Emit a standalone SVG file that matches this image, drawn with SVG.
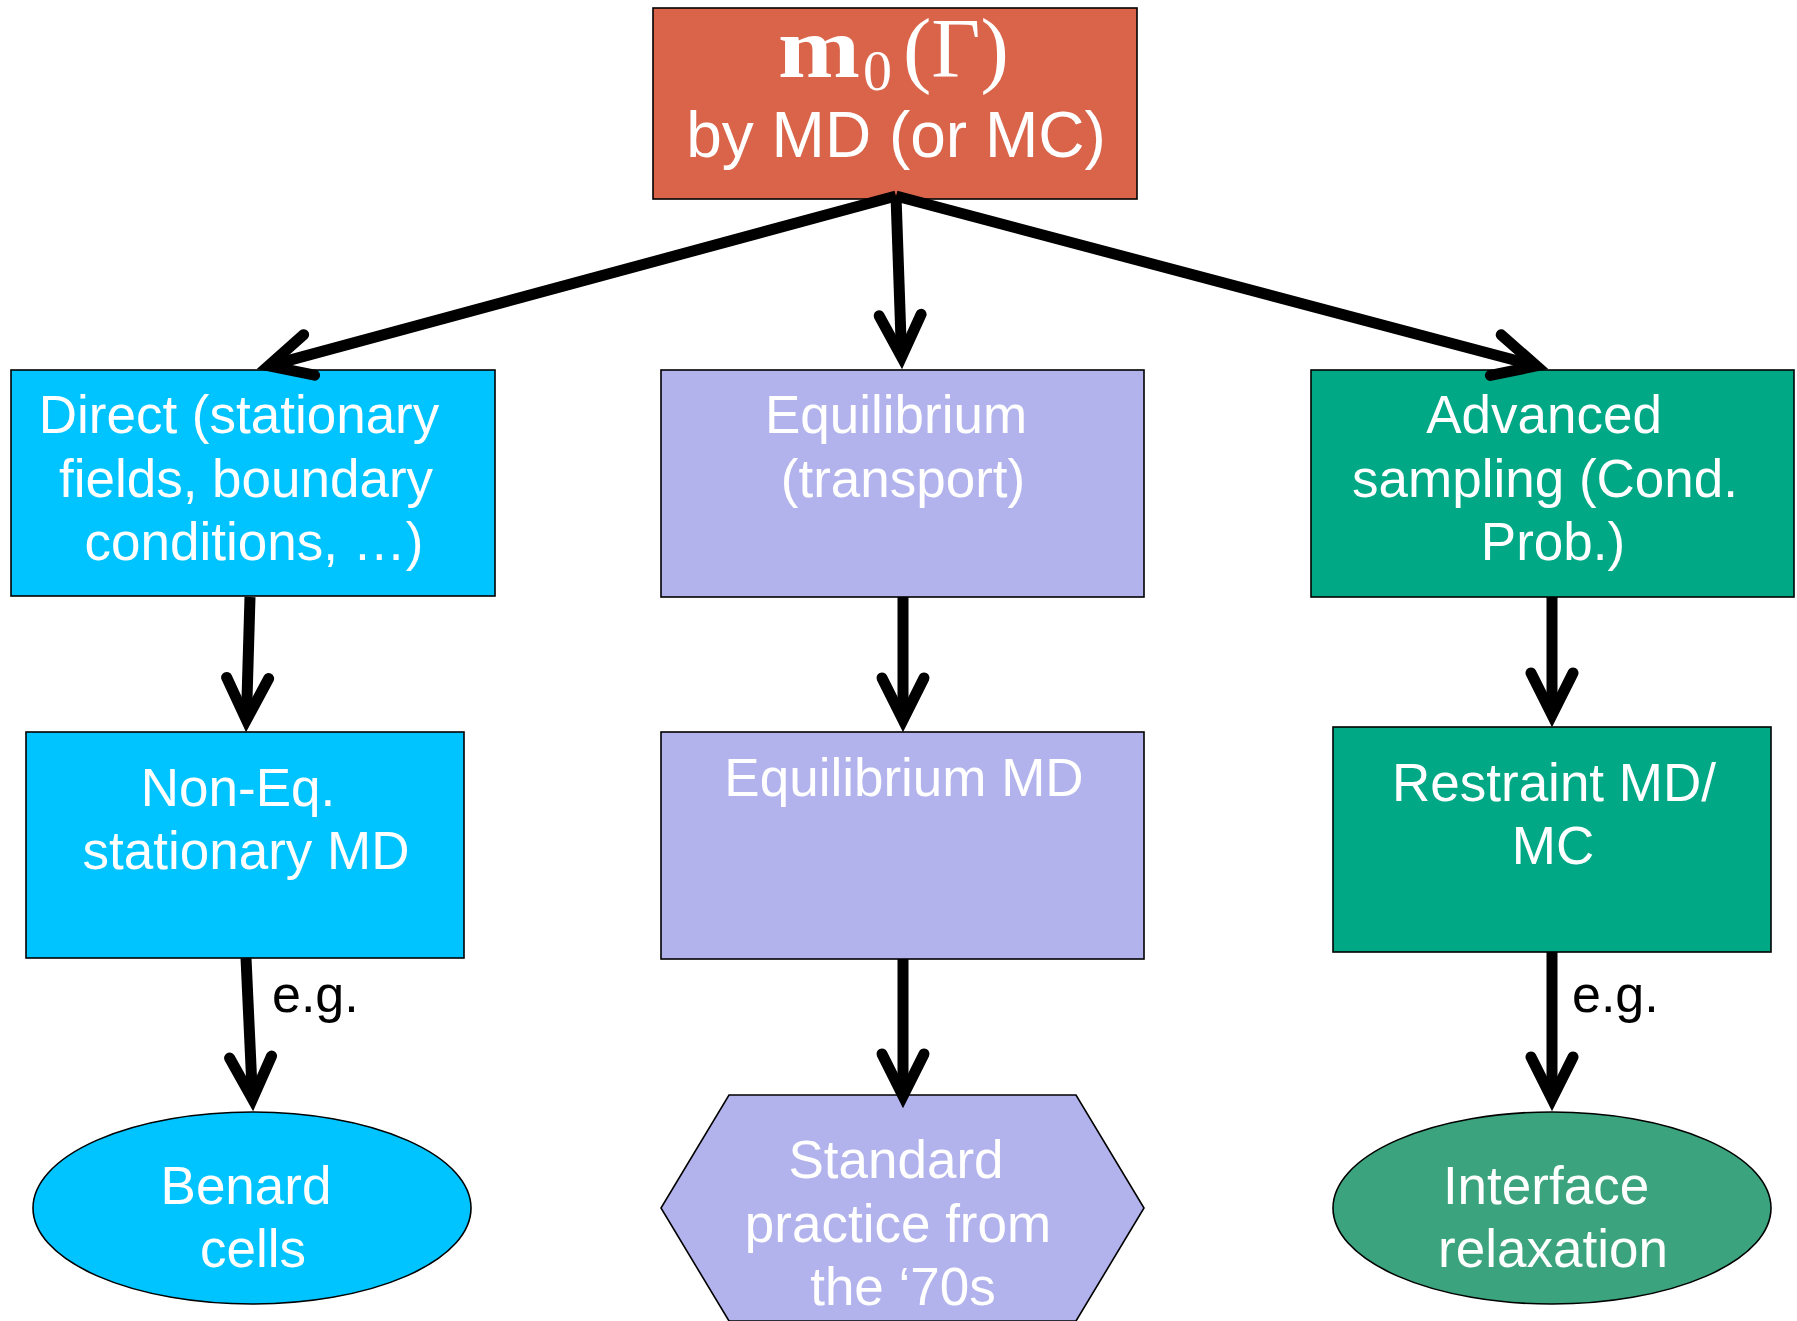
<svg xmlns="http://www.w3.org/2000/svg" width="1797" height="1321" viewBox="0 0 1797 1321">
<style>
.box{stroke:#000;stroke-width:1.6}
.lbl{font-family:"Liberation Sans",Arial,sans-serif;font-size:53px;fill:#fff;text-anchor:middle}
.eg{font-family:"Liberation Sans",Arial,sans-serif;font-size:52px;fill:#000}
.conn{fill:none;stroke:#000;stroke-width:11;stroke-linecap:butt}
.top{fill:#D9644A}
.cyan{fill:#00C4FF}
.lav{fill:#B2B3ED}
.teal{fill:#00A886}
.green{fill:#3BA37D}
</style>
<defs>
<marker id="ah" markerUnits="userSpaceOnUse" markerWidth="1" markerHeight="1" refX="-12" refY="0" orient="auto" overflow="visible">
<path d="M-54,-21 L-12,0 L-54,21" fill="none" stroke="#000" stroke-width="11" stroke-linecap="round" stroke-linejoin="miter"/>
</marker>
</defs>
<rect width="1797" height="1321" fill="#fff"/>

<g id="n-top">
<rect class="box top" x="653" y="8" width="484" height="191"/>
<text x="778" y="77" font-family="'Liberation Serif',serif" font-size="85" fill="#fff"><tspan font-weight="bold" font-size="86" textLength="82" lengthAdjust="spacingAndGlyphs">m</tspan><tspan x="863" dy="13" font-size="58">0</tspan><tspan x="903" dy="-13">(Γ)</tspan></text>
<text x="896" y="157" font-family="'Liberation Sans',Arial,sans-serif" font-size="64" fill="#fff" text-anchor="middle">by MD (or MC)</text>
</g>

<g id="n-direct">
<rect class="box cyan" x="11" y="370" width="484" height="226"/>
<text class="lbl"><tspan x="239" y="433">Direct (stationary</tspan><tspan x="246" y="497">fields, boundary</tspan><tspan x="254" y="560">conditions, …)</tspan></text>
</g>

<g id="n-equil">
<rect class="box lav" x="661" y="370" width="483" height="227"/>
<text class="lbl"><tspan x="896" y="433">Equilibrium</tspan><tspan x="903" y="497">(transport)</tspan></text>
</g>

<g id="n-adv">
<rect class="box teal" x="1311" y="370" width="483" height="227"/>
<text class="lbl"><tspan x="1544" y="433">Advanced</tspan><tspan x="1545" y="497">sampling (Cond.</tspan><tspan x="1553" y="560">Prob.)</tspan></text>
</g>

<g id="n-noneq">
<rect class="box cyan" x="26" y="732" width="438" height="226"/>
<text class="lbl"><tspan x="238" y="806">Non-Eq.</tspan><tspan x="246" y="869">stationary MD</tspan></text>
</g>

<g id="n-eqmd">
<rect class="box lav" x="661" y="732" width="483" height="227"/>
<text class="lbl" x="904" y="796">Equilibrium MD</text>
</g>

<g id="n-restraint">
<rect class="box teal" x="1333" y="727" width="438" height="225"/>
<text class="lbl"><tspan x="1554" y="801">Restraint MD/</tspan><tspan x="1553" y="864">MC</tspan></text>
</g>

<g id="n-benard">
<ellipse class="box cyan" cx="252" cy="1208" rx="219" ry="96"/>
<text class="lbl"><tspan x="246" y="1204">Benard</tspan><tspan x="253" y="1267">cells</tspan></text>
</g>

<g id="n-standard">
<polygon class="box lav" points="729,1095 1076,1095 1144,1208 1076,1321 729,1321 661,1208"/>
<text class="lbl"><tspan x="896" y="1178">Standard</tspan><tspan x="898" y="1242">practice from</tspan><tspan x="903" y="1305">the ‘70s</tspan></text>
</g>

<g id="n-interface">
<ellipse class="box green" cx="1552" cy="1208" rx="219" ry="96"/>
<text class="lbl"><tspan x="1546" y="1204">Interface</tspan><tspan x="1553" y="1267">relaxation</tspan></text>
</g>

<g id="connectors">
<path class="conn" marker-end="url(#ah)" d="M896,196 L268.6,365.9"/>
<path class="conn" marker-end="url(#ah)" d="M896,196 L901.6,357"/>
<path class="conn" marker-end="url(#ah)" d="M896,196 L1536.4,365.9"/>
<path class="conn" marker-end="url(#ah)" d="M250,597 L246.4,720"/>
<path class="conn" marker-end="url(#ah)" d="M903,597 L903,720"/>
<path class="conn" marker-end="url(#ah)" d="M1552,597 L1552,715"/>
<path class="conn" marker-end="url(#ah)" d="M246,958 L252.5,1099"/>
<path class="conn" marker-end="url(#ah)" d="M903,959 L903,1096"/>
<path class="conn" marker-end="url(#ah)" d="M1552,952 L1552,1099"/>
<text class="eg" x="272" y="1012">e.g.</text>
<text class="eg" x="1572" y="1012">e.g.</text>
</g>
</svg>
